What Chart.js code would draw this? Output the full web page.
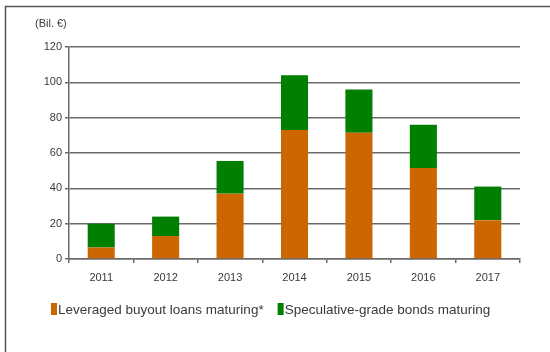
<!DOCTYPE html>
<html>
<head>
<meta charset="utf-8">
<script src="https://cdn.jsdelivr.net/npm/chart.js@4"></script>
<style>
  html, body { margin: 0; padding: 0; background: #fff; }
  #wrap { width: 550px; height: 352px; position: relative; }
</style>
</head>
<body>
<div id="wrap"><canvas id="myChart" width="550" height="352"></canvas></div>
<script>
// maturities per year, billions of euro
var years = ['2011', '2012', '2013', '2014', '2015', '2016', '2017'];
var lboLoans = [6.5, 13, 37, 73, 71.5, 51.5, 22];
var specBonds = [13.5, 11, 18.5, 31, 24.5, 24.5, 19];
var seriesNames = ['Leveraged buyout loans maturing*', 'Speculative-grade bonds maturing'];
var yTicks = [0, 20, 40, 60, 80, 100, 120];

var ORANGE = '#cc6600';
var GREEN = '#007f00';
var GRID = '#6a6a6a';
var TEXT = '#3a3a3a';

// outer frame (top + left rules), unit label and legend
var decorations = {
   id: 'decorations',
   afterDraw: function (chart) {
      var ctx = chart.ctx;
      ctx.save();
      ctx.strokeStyle = '#555';
      ctx.lineWidth = 1.5;
      ctx.beginPath();
      ctx.moveTo(550, 6.5);
      ctx.lineTo(5.5, 6.5);
      ctx.lineTo(5.5, 352);
      ctx.stroke();

      ctx.fillStyle = TEXT;
      ctx.font = '11px "Liberation Sans", Arial, sans-serif';
      ctx.textBaseline = 'middle';
      ctx.textAlign = 'left';
      ctx.fillText('(Bil. €)', 35, 24);

      // legend
      var x = 51;
      ctx.font = '13.5px "Liberation Sans", Arial, sans-serif';
      chart.data.datasets.forEach(function (ds) {
         ctx.fillStyle = ds.backgroundColor;
         ctx.fillRect(x, 303, 6, 12);
         ctx.fillStyle = TEXT;
         ctx.fillText(ds.label, x + 7, 310);
         x += 7 + ctx.measureText(ds.label).width + 14;
      });
      ctx.restore();
   }
};

var ctx = document.getElementById('myChart').getContext('2d');
var myChart = new Chart(ctx, {
   type: 'bar',
   data: {
      labels: years,
      datasets: [{
         label: seriesNames[0],
         data: lboLoans,
         backgroundColor: ORANGE,
         barPercentage: 0.84,
         categoryPercentage: 0.5
      }, {
         label: seriesNames[1],
         data: specBonds,
         backgroundColor: GREEN,
         barPercentage: 0.84,
         categoryPercentage: 0.5
      }]
   },
   options: {
      responsive: false,
      animation: false,
      layout: {
         padding: { left: 41, right: 30, top: 47, bottom: 63 }
      },
      plugins: {
         legend: { display: false },
         tooltip: { enabled: false }
      },
      scales: {
         x: {
            stacked: true,
            grid: {
               offset: true,
               drawOnChartArea: false,
               drawTicks: true,
               tickLength: 4,
               color: GRID,
               lineWidth: 1.5
            },
            border: { color: GRID, width: 1.5 },
            ticks: {
               color: TEXT,
               padding: 8,
               font: { family: '"Liberation Sans", Arial, sans-serif', size: 11 }
            },
            afterFit: function (scale) { scale.height = 30; }
         },
         y: {
            stacked: true,
            min: 0,
            max: 120,
            afterBuildTicks: function (scale) {
               scale.ticks = yTicks.map(function (v) { return { value: v }; });
            },
            grid: {
               color: GRID,
               lineWidth: 1.5,
               tickLength: 4
            },
            border: { color: GRID, width: 1.5 },
            ticks: {
               color: TEXT,
               padding: 3,
               font: { family: '"Liberation Sans", Arial, sans-serif', size: 11 }
            },
            afterFit: function (scale) { scale.width = 28; }
         }
      }
   },
   plugins: [decorations]
});
</script>
</body>
</html>
